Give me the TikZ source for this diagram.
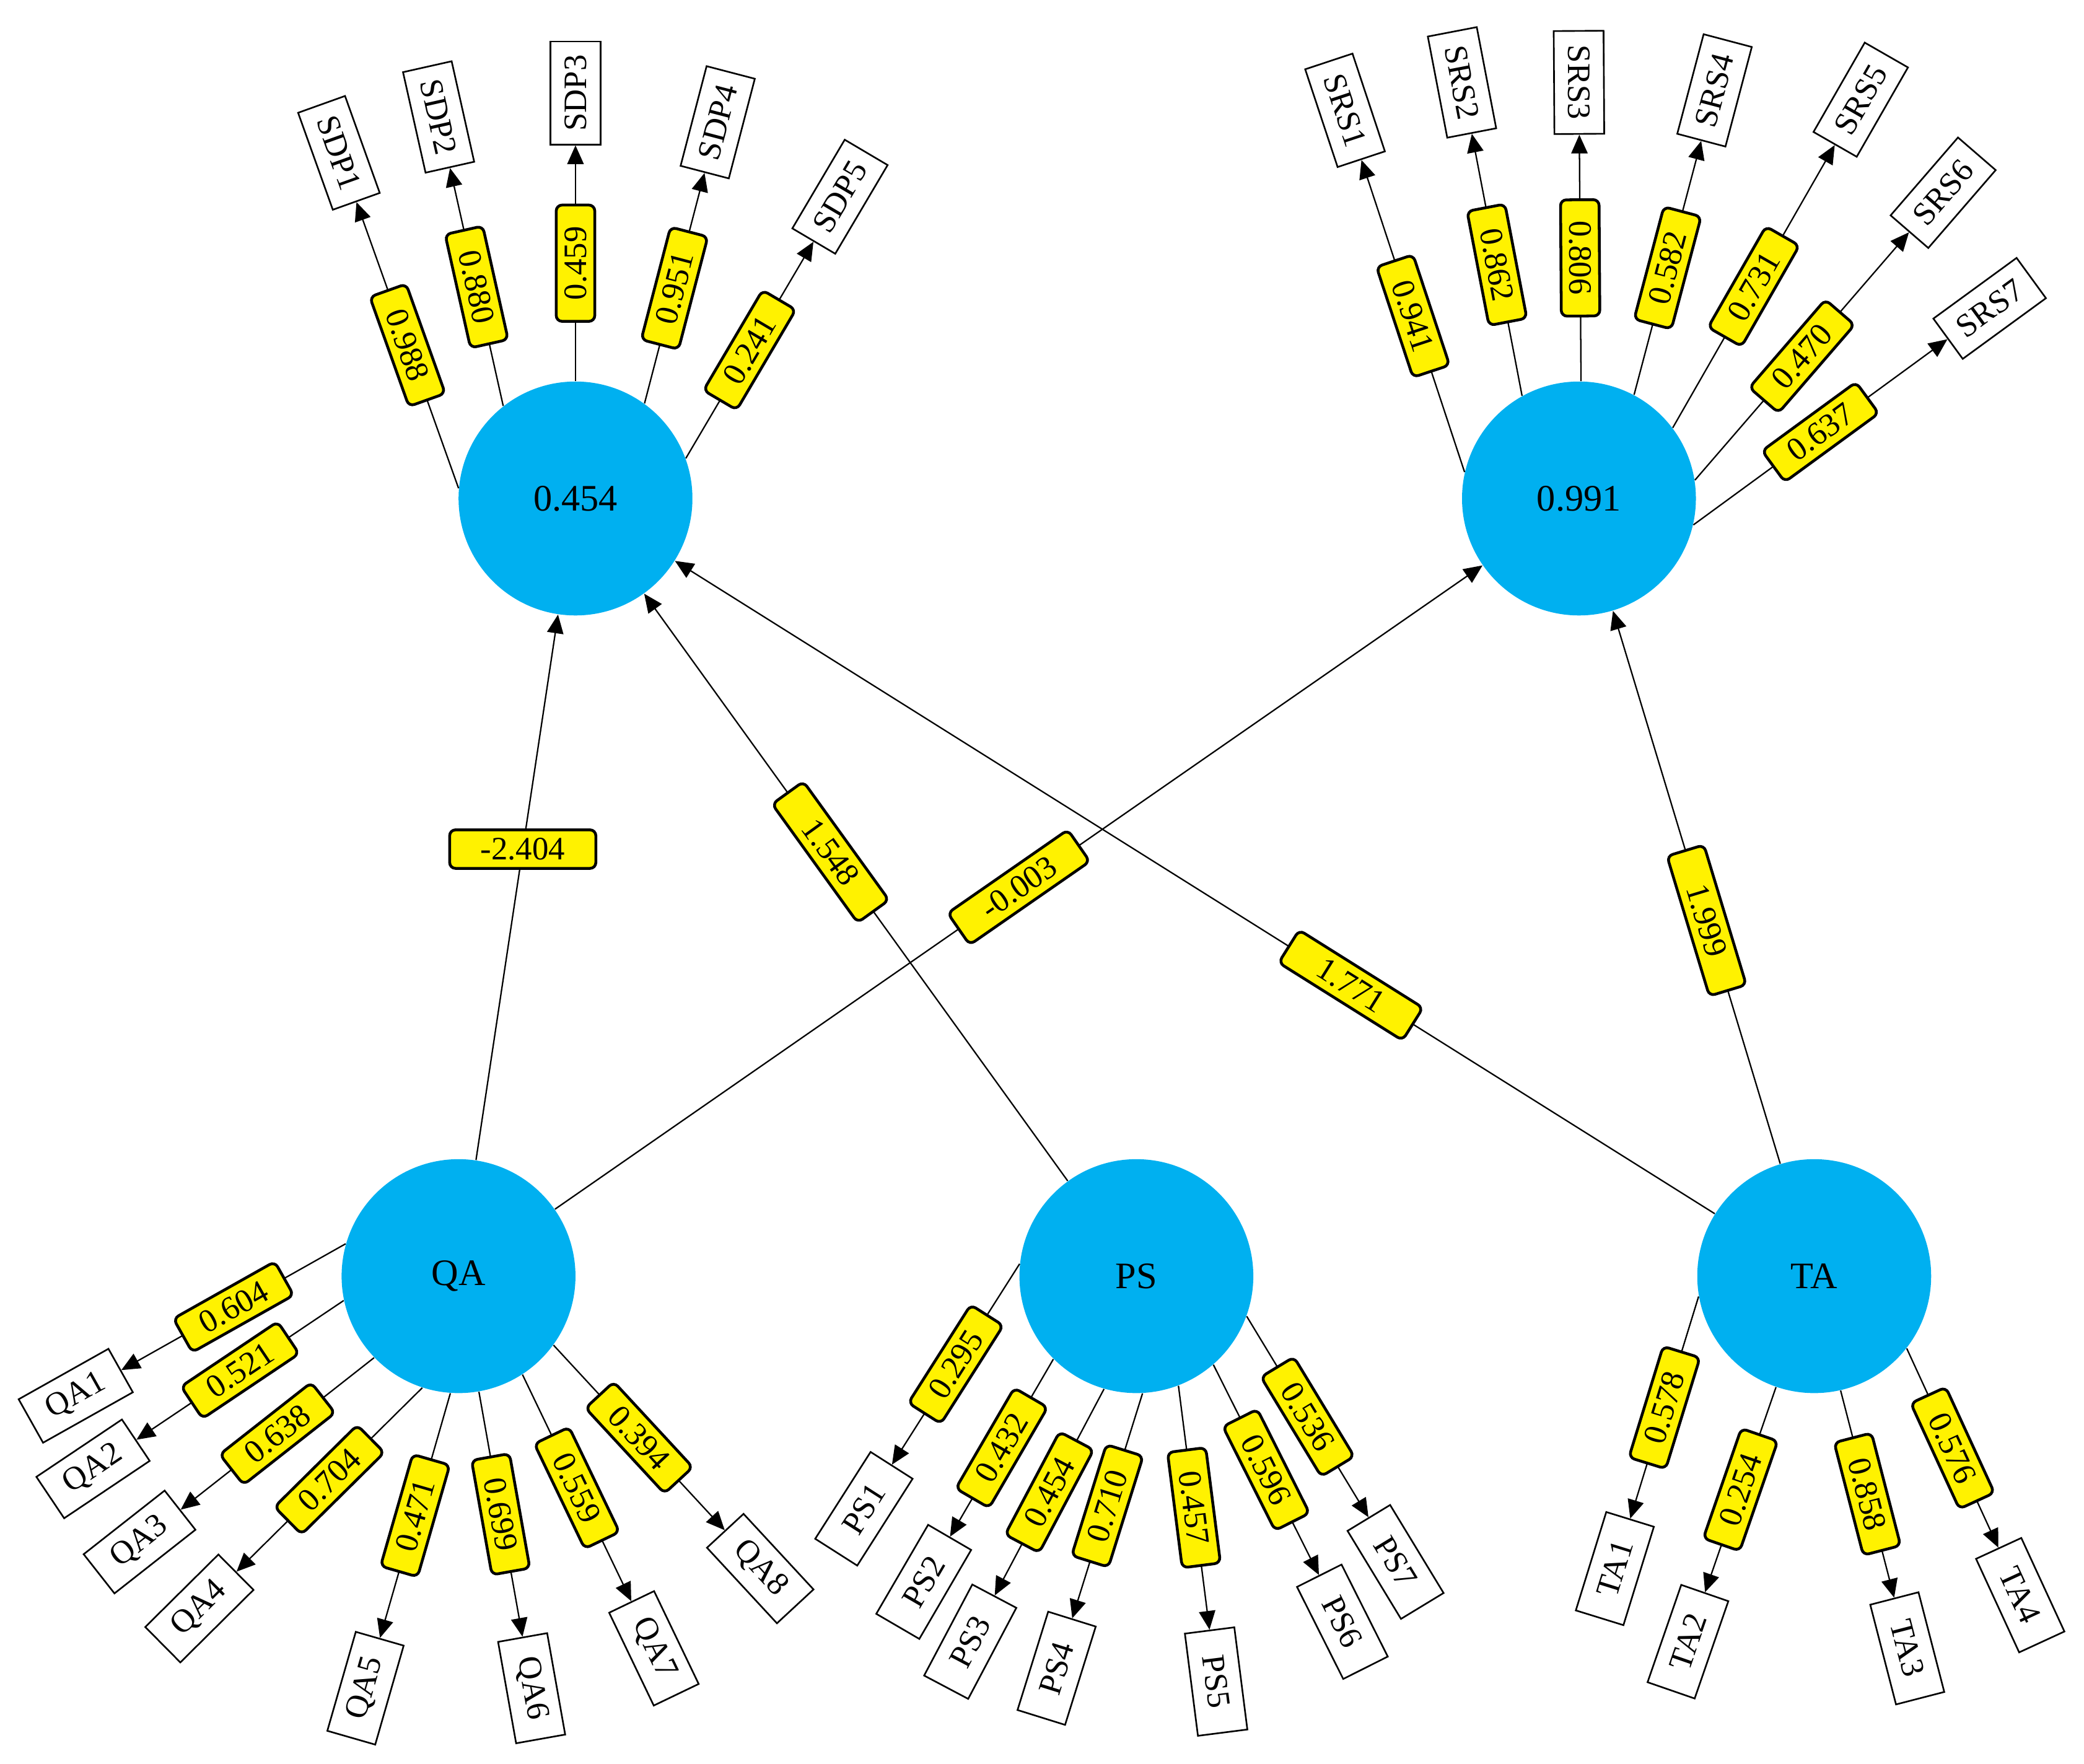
\documentclass[tikz,border=0pt]{standalone}
\usepackage{fontspec}
\setmainfont{Liberation Serif}
\usetikzlibrary{arrows.meta}
\definecolor{lvc}{HTML}{00B0F0}
\begin{document}
\begin{tikzpicture}[x=0.02cm,y=-0.02cm,
  lv/.style={circle,fill=lvc,minimum size=3.52cm,inner sep=0pt,font=\fontsize{16}{18}\selectfont},
  ibox/.style={draw,line width=0.7pt,fill=white,minimum width=1.55cm,minimum height=0.75cm,inner sep=1pt,font=\fontsize{14}{16}\selectfont},
  lab/.style={draw,line width=1.2pt,fill=yellow,rounded corners=2.5pt,minimum width=1.75cm,minimum height=0.58cm,inner sep=1pt,font=\fontsize{14}{16}\selectfont},
  arr/.style={line width=0.6pt,-{Triangle[length=8pt,width=7pt]}}]
\useasboundingbox (0,0) rectangle (1568,1327);
\node[lv] (SDP) at (433,375) {0.454};
\node[lv] (SRS) at (1188,375) {0.991};
\node[lv] (QA) at (345,960) {QA};
\node[lv] (PS) at (855,960) {PS};
\node[lv] (TA) at (1365,960) {TA};
\newcommand\ind[8]{%
 \pgfmathsetmacro\sx{#1+88*cos(#4)}%
 \pgfmathsetmacro\sy{#2-88*sin(#4)}%
 \pgfmathsetmacro\ang{atan2(\sy-#6,#5-\sx)}%
 \pgfmathsetmacro\rot{\ang>90 ? \ang-180 : (\ang<-90 ? \ang+180 : \ang)}%
 \node[ibox,rotate=\rot] (#7) at (#5,#6) {#7};
 \draw[arr] (#3.#4) -- node[lab,sloped]{#8} (#7);}
\ind{433}{375}{SDP}{175}{255}{115}{SDP1}{0.988}
\ind{433}{375}{SDP}{128}{330}{88}{SDP2}{0.880}
\ind{433}{375}{SDP}{90}{433}{70}{SDP3}{0.459}
\ind{433}{375}{SDP}{54}{540}{92}{SDP4}{0.951}
\ind{433}{375}{SDP}{20}{632}{148}{SDP5}{0.241}
\ind{1188}{375}{SRS}{167}{1012}{83}{SRS1}{0.941}
\ind{1188}{375}{SRS}{119}{1100}{62}{SRS2}{0.862}
\ind{1188}{375}{SRS}{89}{1188}{62}{SRS3}{0.806}
\ind{1188}{375}{SRS}{62}{1290}{68}{SRS4}{0.582}
\ind{1188}{375}{SRS}{37}{1400}{75}{SRS5}{0.731}
\ind{1188}{375}{SRS}{9}{1462}{145}{SRS6}{0.470}
\ind{1188}{375}{SRS}{-13}{1497}{232}{SRS7}{0.637}
\ind{345}{960}{QA}{164}{57}{1050}{QA1}{0.604}
\ind{345}{960}{QA}{192}{70}{1105}{QA2}{0.521}
\ind{345}{960}{QA}{224}{105}{1160}{QA3}{0.638}
\ind{345}{960}{QA}{252}{150}{1210}{QA4}{0.704}
\ind{345}{960}{QA}{266}{275}{1270}{QA5}{0.471}
\ind{345}{960}{QA}{280}{400}{1270}{QA6}{0.699}
\ind{345}{960}{QA}{303}{492}{1240}{QA7}{0.559}
\ind{345}{960}{QA}{324}{572}{1180}{QA8}{0.394}
\ind{855}{960}{PS}{174}{650}{1135}{PS1}{0.295}
\ind{855}{960}{PS}{225}{695}{1190}{PS2}{0.432}
\ind{855}{960}{PS}{254}{730}{1235}{PS3}{0.454}
\ind{855}{960}{PS}{273}{795}{1255}{PS4}{0.710}
\ind{855}{960}{PS}{291}{915}{1265}{PS5}{0.457}
\ind{855}{960}{PS}{311}{1010}{1220}{PS6}{0.596}
\ind{855}{960}{PS}{340}{1050}{1175}{PS7}{0.536}
\ind{1365}{960}{TA}{190}{1215}{1180}{TA1}{0.578}
\ind{1365}{960}{TA}{251}{1270}{1235}{TA2}{0.254}
\ind{1365}{960}{TA}{283}{1435}{1240}{TA3}{0.858}
\ind{1365}{960}{TA}{322}{1520}{1200}{TA4}{0.576}
\draw[arr] (QA) -- node[lab,pos=0.57,minimum width=2.2cm]{-2.404} (SDP);
\draw[arr] (PS) -- node[lab,sloped,pos=0.56,minimum width=2.2cm]{1.548} (SDP);
\draw[arr] (QA) -- node[lab,sloped,pos=0.5,minimum width=2.2cm]{-0.003} (SRS);
\draw[arr] (TA) -- node[lab,sloped,pos=0.35,minimum width=2.2cm]{1.771} (SDP);
\draw[arr] (TA) -- node[lab,sloped,pos=0.44,minimum width=2.2cm]{1.999} (SRS);
\end{tikzpicture}
\end{document}
